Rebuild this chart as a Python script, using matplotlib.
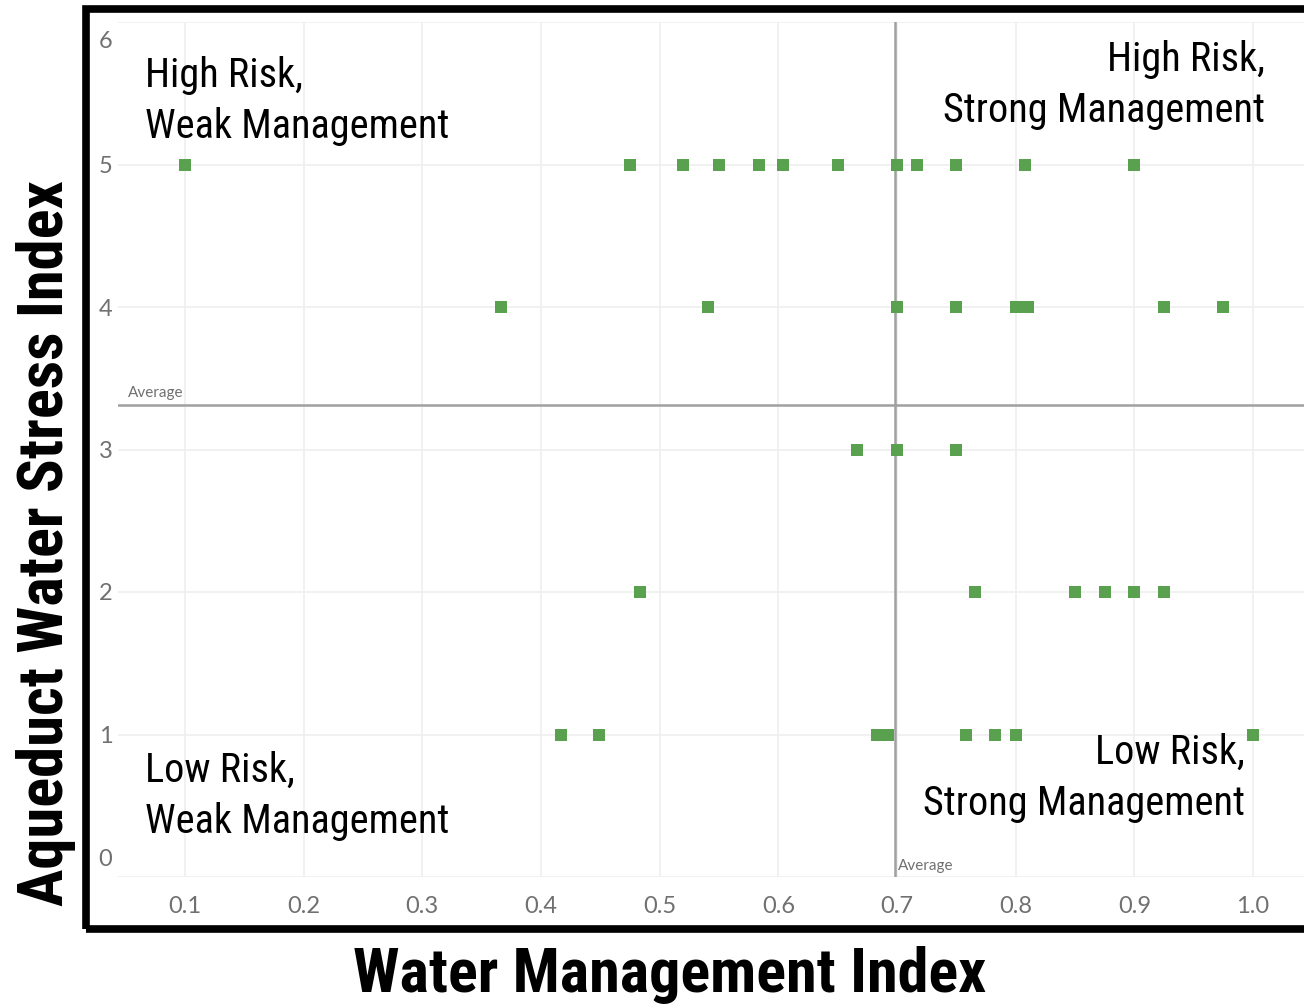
import matplotlib.pyplot as plt
from matplotlib.patches import Rectangle
from matplotlib.transforms import ScaledTranslation

# data
mgmt = [0.100, 0.475, 0.520, 0.550, 0.584, 0.604, 0.650, 0.700, 0.717, 0.750, 0.808, 0.900,
        0.366, 0.541, 0.700, 0.750, 0.800, 0.810, 0.925, 0.975,
        0.666, 0.700, 0.750,
        0.483, 0.766, 0.850, 0.875, 0.900, 0.925,
        0.417, 0.449, 0.683, 0.692, 0.758, 0.783, 0.800, 1.000]
stress = [5] * 12 + [4] * 8 + [3] * 3 + [2] * 6 + [1] * 8
avg_mgmt = 0.698
avg_stress = 3.31

x_ticks = [0.1, 0.2, 0.3, 0.4, 0.5, 0.6, 0.7, 0.8, 0.9, 1.0]
y_ticks = [0, 1, 2, 3, 4, 5, 6]

narrow = ['Liberation Sans Narrow', 'Arial Narrow', 'Roboto Condensed',
          'Archivo Narrow', 'PT Sans Narrow', 'DejaVu Sans']

W, H = 1304, 1008
fig = plt.figure(figsize=(W / 100, H / 100), dpi=100)
ax = fig.add_axes([118 / W, 1 - 877 / H, (W - 118) / W, (877 - 22) / H])

ax.scatter(mgmt, stress, marker='s', s=75, color='#59A14F', linewidths=0, zorder=3)

# average reference lines
ax.axhline(avg_stress, color='#a0a0a0', lw=1.8, zorder=2)
ax.axvline(avg_mgmt, color='#a0a0a0', lw=1.8, zorder=2)
ax.text(0.052, avg_stress + 0.035, 'Average', fontsize=11, color='#707070',
        family='Lato', va='bottom', ha='left')
ax.text(avg_mgmt + 0.003, 0.03, 'Average', fontsize=11, color='#707070',
        family='Lato', va='bottom', ha='left')

ax.set_xlim(0.0435, 1.043)
ax.set_ylim(0, 6)
ax.set_xticks(x_ticks)
ax.set_xticklabels([f'{v:.1f}' for v in x_ticks])
ax.set_yticks(y_ticks)
ax.set_yticklabels([str(v) for v in y_ticks])
ax.tick_params(length=0, labelsize=17, labelcolor='#707070')
ax.tick_params(axis='x', pad=14)
ax.tick_params(axis='y', pad=4)
for lab in ax.get_xticklabels() + ax.get_yticklabels():
    lab.set_family('Lato')
ylabs = ax.get_yticklabels()
ylabs[0].set_transform(ylabs[0].get_transform() + ScaledTranslation(0, 19 / 100, fig.dpi_scale_trans))
ylabs[-1].set_transform(ylabs[-1].get_transform() + ScaledTranslation(0, -18 / 100, fig.dpi_scale_trans))

ax.grid(True, color='#efefef', lw=1.2)
ax.set_axisbelow(True)
for s in ax.spines.values():
    s.set_visible(False)

# quadrant labels
qs = dict(fontsize=29, color='black', family=narrow, linespacing=1.4)
fig.text(145 / W, 1 - 101 / H, 'High Risk,\nWeak Management', ha='left', va='center', **qs)
fig.text(1265 / W, 1 - 85 / H, 'High Risk,\nStrong Management', ha='right', va='center', ma='right', **qs)
fig.text(145 / W, 1 - 796 / H, 'Low Risk,\nWeak Management', ha='left', va='center', **qs)
fig.text(1245 / W, 1 - 778 / H, 'Low Risk,\nStrong Management', ha='right', va='center', ma='right', **qs)

# axis titles
fig.text(670 / W, 1 - 975 / H, 'Water Management Index', ha='center', va='center',
         fontsize=44.7, fontweight='bold', family=narrow)
fig.text(46 / W, 1 - 543 / H, 'Aqueduct Water Stress Index', ha='center', va='center',
         rotation=90, fontsize=45, fontweight='bold', family=narrow)

# thick black frame around the chart
fig.patches.append(Rectangle((86 / W, 1 - 929 / H), 1.1, (929 - 8.5) / H,
                             transform=fig.transFigure, fill=False, ec='black',
                             lw=5.5, clip_on=False))

fig.savefig('out.png', dpi=100)
